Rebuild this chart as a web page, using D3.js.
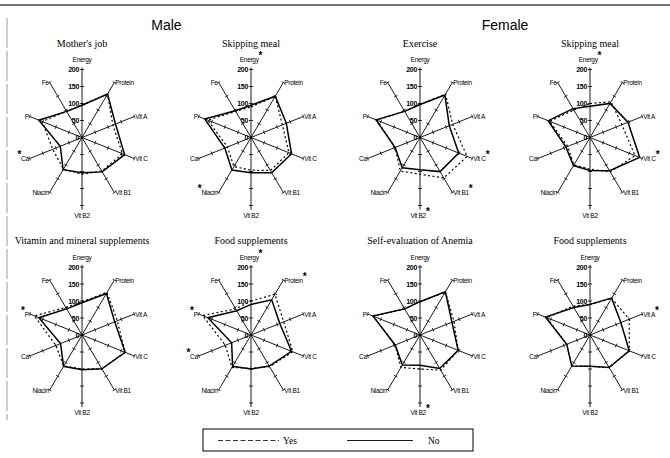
<!DOCTYPE html>
<html>
<head>
<meta charset="utf-8">
<script src="https://cdn.jsdelivr.net/npm/d3@7"></script>
<style>
  body { margin: 0; background: #fff; }
  svg { display: block; }
  text { fill: #000; }
  .axis-label { font-family: "Liberation Sans", Arial, sans-serif; font-size: 6.5px; letter-spacing: -0.3px; }
  .tick-label { font-family: "Liberation Sans", Arial, sans-serif; font-size: 7px; font-weight: bold; letter-spacing: -0.3px; }
  .panel-title { font-family: "Liberation Serif", serif; font-size: 10px; }
  .group-title { font-family: "Liberation Sans", Arial, sans-serif; font-size: 14px; }
  .legend-text { font-family: "Liberation Serif", serif; font-size: 9.5px; }
  .star { font-size: 10px; font-weight: bold; }
</style>
</head>
<body>
<svg id="chart" width="670" height="458"></svg>
<script>
const axesNames = ["Energy", "Protein", "Vit A", "Vit C", "Vit B1", "Vit B2", "Niacin", "Ca", "P", "Fe"];
const groupTitles = ["Male", "Female"];
const panelTitles = ["Mother's job", "Skipping meal", "Exercise", "Skipping meal",
  "Vitamin and mineral supplements", "Food supplements", "Self-evaluation of Anemia", "Food supplements"];
const tickValues = [0, 50, 100, 150, 200];
const seriesNames = ["Yes", "No"];

// % of recommended allowance
const yesValues = [
  [95, 158, 118, 155, 122, 108, 115, 112, 152, 95],
  [90, 150, 120, 145, 120, 96, 106, 90, 165, 95],
  [97, 158, 125, 180, 147, 108, 122, 95, 165, 96],
  [100, 130, 122, 172, 125, 93, 100, 85, 155, 100],
  [98, 155, 135, 165, 123, 100, 113, 100, 182, 100],
  [100, 148, 125, 160, 115, 98, 118, 98, 185, 95],
  [98, 157, 130, 146, 128, 100, 118, 95, 178, 95],
  [90, 134, 150, 150, 118, 92, 113, 89, 165, 105]
];
const noValues = [
  [95, 158, 128, 163, 125, 104, 117, 83, 165, 95],
  [95, 150, 135, 155, 128, 104, 118, 100, 177, 97],
  [97, 154, 112, 148, 124, 95, 110, 95, 168, 95],
  [92, 124, 145, 190, 121, 97, 102, 92, 160, 105],
  [95, 151, 125, 165, 123, 102, 114, 82, 165, 95],
  [90, 128, 110, 155, 113, 100, 114, 74, 165, 88],
  [98, 157, 122, 146, 122, 89, 109, 95, 180, 95],
  [90, 134, 118, 150, 118, 92, 113, 89, 170, 100]
];
// axes marked with an asterisk in each panel
const starred = [
  ["Ca"],
  ["Energy", "Niacin"],
  ["Vit C", "Vit B1", "Vit B2"],
  ["Energy", "Vit C"],
  ["P"],
  ["Energy", "Protein", "P", "Ca"],
  ["Vit B2"],
  ["Vit A"]
];

const svg = d3.select("#chart");

// page frame
svg.append("line").attr("x1", 0).attr("x2", 670).attr("y1", 5).attr("y2", 5)
  .attr("stroke", "#444").attr("stroke-width", 1.4);
svg.append("line").attr("x1", 7).attr("x2", 7).attr("y1", 18).attr("y2", 420)
  .attr("stroke", "#999").attr("stroke-width", 1).attr("stroke-dasharray", "30,3");

const colX = [82, 251, 420, 590];
const rowY = [137.5, 335];

// elliptical radial scales (the plots are taller than wide)
const rx = d3.scaleLinear().domain([0, 200]).range([0, 55]);
const ry = d3.scaleLinear().domain([0, 200]).range([0, 68]);
const angle = d3.scaleLinear().domain([0, axesNames.length]).range([0, 2 * Math.PI]);

function pt(i, v) {
  const a = angle(i);
  return [rx(v) * Math.sin(a), -ry(v) * Math.cos(a)];
}

groupTitles.forEach((g, gi) => {
  svg.append("text").attr("class", "group-title")
    .attr("x", (colX[gi * 2] + colX[gi * 2 + 1]) / 2)
    .attr("y", 30)
    .attr("text-anchor", "middle")
    .text(g);
});

const line = d3.line().curve(d3.curveLinearClosed);

panelTitles.forEach((title, p) => {
  const cx = colX[p % 4];
  const cy = rowY[Math.floor(p / 4)];
  const g = svg.append("g").attr("transform", `translate(${cx},${cy})`);

  g.append("text").attr("class", "panel-title")
    .attr("x", 0).attr("y", -91)
    .attr("text-anchor", "middle")
    .text(title);

  // axes
  axesNames.forEach((name, i) => {
    const end = i === 0 ? 206 : i === 5 ? 212 : 200;
    const [x2, y2] = pt(i, end);
    g.append("line").attr("x1", 0).attr("y1", 0).attr("x2", x2).attr("y2", y2)
      .attr("stroke", "#000").attr("stroke-width", 0.9);

    // ticks perpendicular to the axis
    const [ux, uy] = pt(i, 200);
    const len = Math.hypot(ux, uy);
    const nx = -uy / len, ny = ux / len;
    tickValues.slice(1).forEach(t => {
      const [tx, ty] = pt(i, t);
      g.append("line")
        .attr("x1", tx - nx * 2).attr("y1", ty - ny * 2)
        .attr("x2", tx + nx * 2).attr("y2", ty + ny * 2)
        .attr("stroke", "#000").attr("stroke-width", 0.8);
    });

    // label
    const [lx, ly] = pt(i, 200);
    const isStar = starred[p].includes(name);
    const lab = g.append("text").attr("class", "axis-label");
    if (i === 0) {
      lab.attr("x", 0).attr("y", -ry(206) - 5).attr("text-anchor", "middle");
    } else if (i === 5) {
      lab.attr("x", 0).attr("y", ry(212) + 8).attr("text-anchor", "middle");
    } else if (i < 5) {
      lab.attr("x", lx + 1).attr("y", ly + 2.5).attr("text-anchor", "start");
    } else {
      lab.attr("x", lx - 1).attr("y", ly + 2.5).attr("text-anchor", "end");
    }
    if (isStar && i >= 6) {
      lab.append("tspan").attr("class", "star").attr("dy", -3).text("*");
      lab.append("tspan").attr("dy", 3).text(name);
    } else {
      lab.append("tspan").text(name);
      if (isStar) lab.append("tspan").attr("class", "star").attr("dy", -3).text("*");
    }
  });

  // tick labels on the energy axis
  tickValues.forEach(t => {
    g.append("text").attr("class", "tick-label")
      .attr("x", -3).attr("y", -ry(t) + 2.5)
      .attr("text-anchor", "end")
      .text(t);
  });

  // series
  const series = [
    { name: "Yes", values: yesValues[p], dash: "2,2.5", width: 1.2 },
    { name: "No", values: noValues[p], dash: null, width: 1.5 }
  ];
  series.forEach(s => {
    g.append("path")
      .attr("d", line(s.values.map((v, i) => pt(i, v))))
      .attr("fill", "none")
      .attr("stroke", "#000")
      .attr("stroke-width", s.width)
      .attr("stroke-dasharray", s.dash);
  });
});

// legend
const legend = svg.append("g");
legend.append("rect").attr("x", 203).attr("y", 429).attr("width", 270).attr("height", 22)
  .attr("fill", "none").attr("stroke", "#000").attr("stroke-width", 1);
legend.append("line").attr("x1", 218).attr("x2", 279).attr("y1", 440.5).attr("y2", 440.5)
  .attr("stroke", "#000").attr("stroke-width", 0.8).attr("stroke-dasharray", "5,2.5");
legend.append("text").attr("class", "legend-text").attr("x", 283).attr("y", 443.5).text(seriesNames[0]);
legend.append("line").attr("x1", 347).attr("x2", 413).attr("y1", 440.5).attr("y2", 440.5)
  .attr("stroke", "#000").attr("stroke-width", 0.9);
legend.append("text").attr("class", "legend-text").attr("x", 428).attr("y", 443.5).text(seriesNames[1]);
</script>
</body>
</html>
